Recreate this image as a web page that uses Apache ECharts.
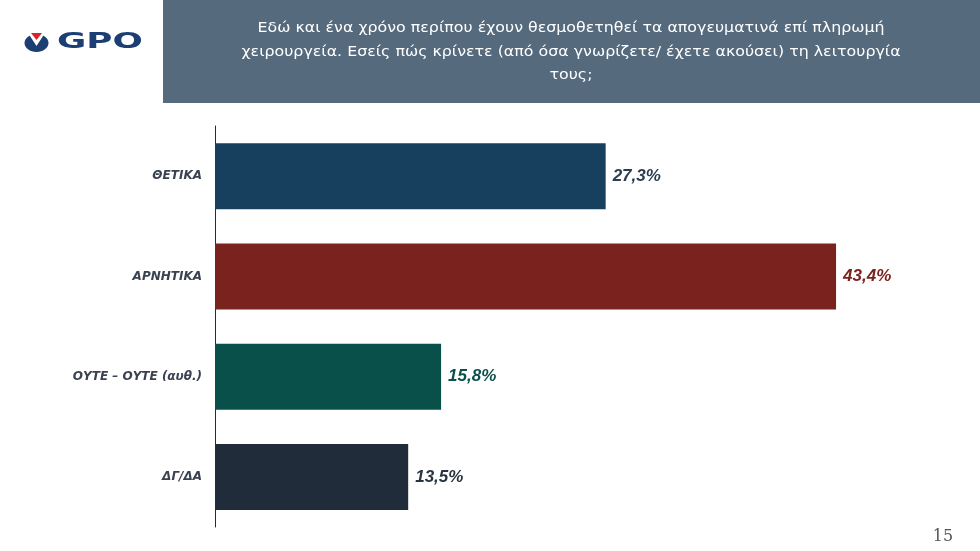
<!DOCTYPE html>
<html>
<head>
<meta charset="utf-8">
<script src="https://cdn.jsdelivr.net/npm/echarts@6/dist/echarts.min.js"></script>
<style>html,body{margin:0;padding:0;background:#fff;}#c{width:980px;height:551px;}</style>
</head>
<body>
<div id="c"></div>
<script>
var categories = ['ΘΕΤΙΚΑ', 'ΑΡΝΗΤΙΚΑ', 'ΟΥΤΕ – ΟΥΤΕ (αυθ.)', 'ΔΓ/ΔΑ'];
var values = [27.3, 43.4, 15.8, 13.5];
var barColors = ['#17405e', '#7a231e', '#0a504a', '#212c3a'];
var labelColors = ['#2b3d50', '#7a231e', '#0d4f4b', '#2a3441'];
var titleText = 'Εδώ και ένα χρόνο περίπου έχουν θεσμοθετηθεί τα απογευματινά επί πληρωμή\nχειρουργεία. Εσείς πώς κρίνετε (από όσα γνωρίζετε/ έχετε ακούσει) τη λειτουργία\nτους;';

var chart = echarts.init(document.getElementById('c'), null, {renderer: 'canvas'});
chart.setOption({
  animation: false,
  backgroundColor: '#ffffff',
  grid: {left: 215, top: 126, width: 715.5, height: 401, containLabel: false},
  xAxis: {type: 'value', min: 0, max: 50, show: false},
  yAxis: {
    type: 'category', data: categories, inverse: true,
    axisLine: {show: true, lineStyle: {color: '#2a2a2a', width: 1}},
    axisTick: {show: false},
    axisLabel: {margin: 13, color: '#3a4252', fontSize: 12, fontStyle: 'italic', fontWeight: 'bold', fontFamily: '"DejaVu Sans", sans-serif'}
  },
  series: [{
    type: 'bar', barWidth: 66,
    data: values.map(function (v, i) {
      return {value: v, itemStyle: {color: barColors[i]},
        label: {color: labelColors[i]}};
    }),
    label: {show: true, position: 'right', distance: 7, fontSize: 17, fontStyle: 'italic', fontWeight: 'bold',
      fontFamily: '"Liberation Sans", Arial, sans-serif',
      formatter: function (p) { return p.value.toFixed(1).replace('.', ',') + '%'; }}
  }],
  graphic: [
    {type: 'rect', shape: {x: 163, y: 0, width: 817, height: 103}, style: {fill: '#566a7e'}},
    {type: 'text', x: 571, y: 52, scaleX: 1.13, style: {text: titleText, fill: '#ffffff', font: '14px "DejaVu Sans", sans-serif', align: 'center', verticalAlign: 'middle', lineHeight: 23.5}},
    // logo icon
    {type: 'ellipse', shape: {cx: 36.5, cy: 43, rx: 12, ry: 9}, style: {fill: '#1b3f73'}},
    {type: 'polygon', shape: {points: [[28, 33], [45, 33], [36.5, 46]]}, style: {fill: '#ffffff'}},
    {type: 'polygon', shape: {points: [[31, 33], [42, 33], [36.5, 40]]}, style: {fill: '#d8232a'}},
    {type: 'text', x: 57, y: 43, style: {text: 'GPO', fill: '#1b3f73', font: 'bold 21px "DejaVu Sans", sans-serif', verticalAlign: 'middle'}, scaleX: 1.7},
    {type: 'text', x: 943, y: 537, style: {text: '15', fill: '#555555', font: '16px "DejaVu Serif", serif', align: 'center', verticalAlign: 'middle'}}
  ]
});
</script>
</body>
</html>
